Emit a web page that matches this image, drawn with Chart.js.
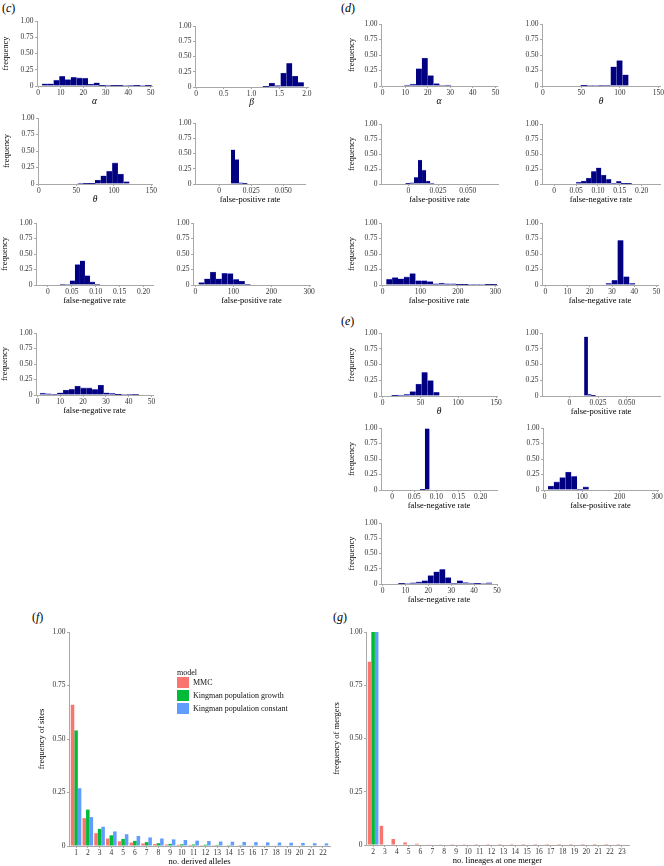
<!DOCTYPE html>
<html>
<head>
<meta charset="utf-8">
<script src="https://cdn.jsdelivr.net/npm/chart.js@4.4.1/dist/chart.umd.min.js"></script>
<style>
  html, body { margin: 0; padding: 0; background: #fff; overflow: hidden; }
  #fig { position: relative; width: 664px; height: 866px; font-family: "Liberation Serif", "DejaVu Serif", serif; }
  #fig canvas { position: absolute; }
  .panel { position: absolute; font-size: 12px; line-height: 1; color: #000; }
  .panel i { font-style: italic; }
  .leg { position: absolute; font-size: 8px; line-height: 11px; color: #111; white-space: nowrap; }
  .sw { position: absolute; width: 12px; height: 11px; }
</style>
</head>
<body>
<div id="fig">
  <div class="panel" style="left:2px;top:2px">(<i>c</i>)</div>
  <div class="panel" style="left:341px;top:2px">(<i>d</i>)</div>
  <div class="panel" style="left:341px;top:315px">(<i>e</i>)</div>
  <div class="panel" style="left:32px;top:611px">(<i>f</i>)</div>
  <div class="panel" style="left:333px;top:611px">(<i>g</i>)</div>
</div>
<script>
// ---- data ----
// histogram frequencies, one value per bin; bin = [first bin start, bin width]
const c1Freq = [0.035, 0.035, 0.09, 0.15, 0.10, 0.135, 0.125, 0.12, 0.03, 0.05, 0.005, 0.015, 0.005, 0.005, 0, 0.01, 0.005, 0, 0.005];
const c2Freq = [0.005, 0.065, 0.025, 0.23, 0.39, 0.18, 0.075];
const c3Freq = [0.015, 0.005, 0.005, 0.06, 0.125, 0.195, 0.32, 0.15, 0.035];
const c4Freq = [0.56, 0.40, 0.02, 0.005];
const c5Freq = [0.01, 0, 0.07, 0.33, 0.39, 0.15, 0.05, 0.01];
const c6Freq = [0.04, 0.10, 0.21, 0.10, 0.19, 0.185, 0.09, 0.065, 0.01];
const c7Freq = [0.03, 0.02, 0.01, 0.035, 0.08, 0.095, 0.145, 0.115, 0.115, 0.09, 0.16, 0.035, 0.025, 0.005, 0, 0.012, 0.008];

const d1Freq = [0.015, 0.03, 0.28, 0.45, 0.17, 0.04, 0, 0.015];
const d2Freq = [0.005, 0, 0, 0.01, 0.015, 0.31, 0.41, 0.18];
const d3Freq = [0.005, 0.02, 0.11, 0.40, 0.23, 0.05, 0.015];
const d4Freq = [0.03, 0.05, 0.10, 0.21, 0.27, 0.15, 0.08, 0.01, 0.045, 0.005, 0.005];
const d5Freq = [0.095, 0.12, 0.10, 0.13, 0.185, 0.07, 0.07, 0.055, 0.02, 0.03, 0.02, 0.02, 0.005, 0.005, 0, 0, 0, 0.005, 0.005];
const d6Freq = [0.025, 0.075, 0.72, 0.135, 0.025];

const e1Freq = [0.005, 0.015, 0.025, 0.07, 0.19, 0.375, 0.245, 0.06];
const e2Freq = [0.94, 0.025, 0.005];
const e3Freq = [0.005, 0.99];
const e4Freq = [0.065, 0.13, 0.20, 0.29, 0.22, 0.01, 0.05];
const e5Freq = [0.005, 0, 0.02, 0.035, 0.055, 0.14, 0.20, 0.24, 0.105, 0.01, 0.055, 0.025, 0.015, 0.005, 0, 0.02];

// tick labels
const yTickVals = [0, 0.25, 0.5, 0.75, 1];
const yTickText = ['0', '0.25', '0.50', '0.75', '1.00'];
const count50 = [0, 10, 20, 30, 40, 50];
const betaTicks = [0, 0.5, 1, 1.5, 2];
const betaText = ['0', '0.5', '1.0', '1.5', '2.0'];
const thetaTicks = [0, 50, 100, 150];
const fpRateTicks = [0, 0.025, 0.05];
const fpRateText = ['0', '0.025', '0.050'];
const fnRateTicks = [0, 0.05, 0.1, 0.15, 0.2];
const fnRateText = ['0', '0.05', '0.10', '0.15', '0.20'];
const count300 = [0, 100, 200, 300];

// (f) site frequency spectrum
const models = ['MMC', 'Kingman population growth', 'Kingman population constant'];
const derivedAlleles = [1, 2, 3, 4, 5, 6, 7, 8, 9, 10, 11, 12, 13, 14, 15, 16, 17, 18, 19, 20, 21, 22];
const sfsMMC = [0.66, 0.13, 0.06, 0.035, 0.022, 0.016, 0.012, 0.009, 0.007, 0.006, 0.005, 0.004, 0.004, 0.003, 0.003, 0.003, 0.002, 0.002, 0.002, 0.002, 0.002, 0.002];
const sfsGrowth = [0.54, 0.17, 0.08, 0.05, 0.033, 0.024, 0.018, 0.013, 0.01, 0.008, 0.007, 0.006, 0.005, 0.004, 0.004, 0.003, 0.003, 0.003, 0.002, 0.002, 0.002, 0.002];
const sfsConstant = [0.27, 0.135, 0.09, 0.068, 0.055, 0.047, 0.04, 0.035, 0.031, 0.028, 0.025, 0.023, 0.021, 0.02, 0.019, 0.018, 0.017, 0.016, 0.015, 0.014, 0.013, 0.012];

// (g) merger sizes
const mergerSizes = [2, 3, 4, 5, 6, 7, 8, 9, 10, 11, 12, 13, 14, 15, 16, 17, 18, 19, 20, 21, 22, 23];
const mergMMC = [0.86, 0.09, 0.028, 0.012, 0.006, 0.003, 0.0015, 0.001, 0.001, 0.0008, 0.0006, 0.0005, 0.0005, 0.0004, 0.0004, 0.0003, 0.0003, 0.0003, 0.0002, 0.0002, 0.0002, 0.0002];
const mergGrowth = [1.0, 0, 0, 0, 0, 0, 0, 0, 0, 0, 0, 0, 0, 0, 0, 0, 0, 0, 0, 0, 0, 0];
const mergConstant = [1.0, 0, 0, 0, 0, 0, 0, 0, 0, 0, 0, 0, 0, 0, 0, 0, 0, 0, 0, 0, 0, 0];

// ---- styles ----
const SERIF = '"Liberation Serif", "DejaVu Serif", serif';
const NAVY = '#000080';
const EDGE = '#6a6ad4';
const AXIS = '#a8a8a8';
const TICK = '#333333';
const modelColors = ['#F8766D', '#00BA38', '#619CFF'];

const FPR = 'false-positive rate';
const FNR = 'false-negative rate';

// box = [plot left, plot right, y=1 pixel, y=0 pixel]
const hists = [
  { freq: c1Freq, bin: [1.75, 2.55], range: [-0.5, 50.5], ticks: count50, text: count50, title: 'α', greek: true, yTitle: true, box: [37, 152, 20, 86], yw: 36 },
  { freq: c2Freq, bin: [1.21, 0.105], range: [-0.02, 2.02], ticks: betaTicks, text: betaText, title: 'β', greek: true, box: [195, 308, 25, 87], yw: 34 },
  { freq: c3Freq, bin: [52, 7.65], range: [-1, 151], ticks: thetaTicks, text: thetaTicks, title: 'θ', greek: true, yTitle: true, box: [38, 152, 117, 184], yw: 36 },
  { freq: c4Freq, bin: [0.0093, 0.0031], range: [-0.0187, 0.0668], ticks: fpRateTicks, text: fpRateText, title: FPR, box: [195, 305, 122, 184], yw: 34 },
  { freq: c5Freq, bin: [0.025, 0.0105], range: [-0.025, 0.22], ticks: fnRateTicks, text: fnRateText, title: FNR, yTitle: true, box: [36, 153, 222, 285], yw: 36 },
  { freq: c6Freq, bin: [8.7, 15.2], range: [-6, 302], ticks: count300, text: count300, title: FPR, box: [193, 310, 222, 285], yw: 34 },
  { freq: c7Freq, bin: [1.0, 2.55], range: [-0.7, 50.7], ticks: count50, text: count50, title: FNR, yTitle: true, box: [36, 153, 332, 395], yw: 36 },

  { freq: d1Freq, bin: [9.6, 2.6], range: [-0.7, 50.7], ticks: count50, text: count50, title: 'α', greek: true, yTitle: true, box: [381, 497, 23, 86], yw: 34 },
  { freq: d2Freq, bin: [49.5, 7.7], range: [-1, 152], ticks: thetaTicks, text: thetaTicks, title: 'θ', greek: true, box: [542, 660, 23, 86], yw: 34 },
  { freq: d3Freq, bin: [-0.002, 0.0034], range: [-0.0229, 0.0754], ticks: fpRateTicks, text: fpRateText, title: FPR, yTitle: true, box: [381, 498, 123, 184], yw: 34 },
  { freq: d4Freq, bin: [0.05, 0.0115], range: [-0.028, 0.242], ticks: fnRateTicks, text: fnRateText, title: FNR, box: [542, 660, 123, 184], yw: 34 },
  { freq: d5Freq, bin: [9.8, 15.5], range: [-4.4, 304], ticks: count300, text: count300, title: FPR, yTitle: true, box: [381, 497, 222, 285], yw: 34 },
  { freq: d6Freq, bin: [27.2, 2.65], range: [-1.5, 50.7], ticks: count50, text: count50, title: FNR, box: [542, 658, 222, 285], yw: 34 },

  { freq: e1Freq, bin: [12.3, 7.85], range: [-2.2, 151.3], ticks: thetaTicks, text: thetaTicks, title: 'θ', greek: true, yTitle: true, box: [381, 497, 332, 396], yw: 34 },
  { freq: e2Freq, bin: [0.013, 0.0032], range: [-0.0237, 0.0789], ticks: fpRateTicks, text: fpRateText, title: FPR, box: [542, 660, 332, 396], yw: 34 },
  { freq: e3Freq, bin: [0.0639, 0.0103], range: [-0.025, 0.237], ticks: fnRateTicks, text: fnRateText, title: FNR, yTitle: true, box: [381, 497, 427, 490], yw: 34 },
  { freq: e4Freq, bin: [8.9, 15.5], range: [-4.4, 302], ticks: count300, text: count300, title: FPR, box: [543, 658, 427, 490], yw: 34 },
  { freq: e5Freq, bin: [7.0, 2.55], range: [-0.7, 50], ticks: count50, text: count50, title: FNR, yTitle: true, box: [381, 497, 522, 584], yw: 34 },
];

const fig = document.getElementById('fig');

function place(left, top, width, height) {
  const c = document.createElement('canvas');
  c.width = width;
  c.height = height;
  c.style.left = left + 'px';
  c.style.top = top + 'px';
  fig.appendChild(c);
  return c.getContext('2d');
}

function axisGrid() {
  return { display: true, drawOnChartArea: false, drawTicks: true, tickLength: 2, color: AXIS, lineWidth: 1, offset: false };
}

function yScale(width, title, size) {
  return {
    min: 0, max: 1, bounds: 'data',
    afterBuildTicks: s => { s.ticks = yTickVals.map(v => ({ value: v })); },
    afterFit: s => { s.width = width; },
    grid: axisGrid(),
    border: { display: true, color: AXIS, width: 1 },
    ticks: { padding: 1.5, color: TICK, font: { family: SERIF, size: size }, callback: (v, i) => yTickText[i] },
    title: { display: !!title, text: title || '', color: '#000', font: { family: SERIF, size: size + 1 }, padding: { top: 0, bottom: 0 } },
  };
}

function xScale(min, max, ticks, text, height, title, font, tickSize) {
  return {
    type: 'linear', min: min, max: max, bounds: 'data', offset: false,
    afterBuildTicks: s => { s.ticks = ticks.map(v => ({ value: v })); },
    afterFit: s => { s.height = height; },
    grid: axisGrid(),
    border: { display: true, color: AXIS, width: 1 },
    ticks: { autoSkip: false, maxRotation: 0, padding: 1, color: TICK, font: { family: SERIF, size: tickSize }, callback: (v, i) => String(text[i]) },
    title: { display: true, text: title, color: '#000', font: font, padding: { top: 0, bottom: 0 } },
  };
}

function drawHist(h) {
  const [L, R, T, B] = h.box;
  const padTop = 5, padRight = 8, xh = 21;
  const ctx = place(L - h.yw, T - padTop, h.yw + (R - L) + padRight, padTop + (B - T) + xh);
  const [start, width] = h.bin;
  const points = h.freq.map((f, i) => ({ x: start + width * (i + 0.5), y: f }));
  const titleFont = h.greek
    ? { family: SERIF, size: 9.5, style: 'italic' }
    : { family: SERIF, size: 8.5 };

  new Chart(ctx, {
    type: 'bar',
    data: {
      datasets: [{
        data: points,
        backgroundColor: NAVY,
        borderColor: EDGE,
        borderWidth: { top: 0.6, left: 0, right: 0, bottom: 0 },
        barPercentage: 1,
        categoryPercentage: 1,
      }],
    },
    options: {
      responsive: false,
      animation: false,
      events: [],
      layout: { padding: { top: padTop, right: padRight, left: 0, bottom: 0 } },
      plugins: { legend: { display: false }, tooltip: { enabled: false } },
      scales: {
        x: xScale(h.range[0], h.range[1], h.ticks, h.text, xh, h.title, titleFont, 7.5),
        y: yScale(h.yw, h.yTitle ? 'frequency' : '', 7.5),
      },
    },
  });
}

hists.forEach(drawHist);

function drawGrouped(box, left, cats, series, range, xTitle, yTitle) {
  const [L, R, T, B] = box;
  const padTop = 6, padRight = 6, xh = 21;
  const yw = L - left;
  const ctx = place(left, T - padTop, yw + (R - L) + padRight, padTop + (B - T) + xh);
  new Chart(ctx, {
    type: 'bar',
    data: {
      datasets: series.map((vals, k) => ({
        label: models[k],
        data: vals.map((v, i) => ({ x: cats[i], y: v })),
        backgroundColor: modelColors[k],
        borderWidth: 0,
        barPercentage: 1,
        categoryPercentage: 0.9,
      })),
    },
    options: {
      responsive: false,
      animation: false,
      events: [],
      layout: { padding: { top: padTop, right: padRight, left: 0, bottom: 0 } },
      plugins: { legend: { display: false }, tooltip: { enabled: false } },
      scales: {
        x: xScale(range[0], range[1], cats, cats, xh, xTitle, { family: SERIF, size: 8.5 }, 7.5),
        y: yScale(yw, yTitle, 7.5),
      },
    },
  });
}

drawGrouped([69, 330, 632, 846], 37, derivedAlleles, [sfsMMC, sfsGrowth, sfsConstant], [0.4, 22.6], 'no. derived alleles', 'frequency of sites');
drawGrouped([366, 629, 632, 845], 332, mergerSizes, [mergMMC, mergGrowth, mergConstant], [1.4, 23.6], 'no. lineages at one merger', 'frequency of mergers');

// legend for (f)
function legendItem(text, x, y, cls) {
  const d = document.createElement('div');
  d.className = cls;
  d.style.left = x + 'px';
  d.style.top = y + 'px';
  if (text !== null) d.textContent = text;
  fig.appendChild(d);
  return d;
}
legendItem('model', 177, 667, 'leg');
models.forEach((m, k) => {
  const sw = legendItem(null, 177, 677 + k * 13, 'sw');
  sw.style.background = modelColors[k];
  legendItem(m, 193, 677 + k * 13, 'leg');
});
</script>
</body>
</html>
